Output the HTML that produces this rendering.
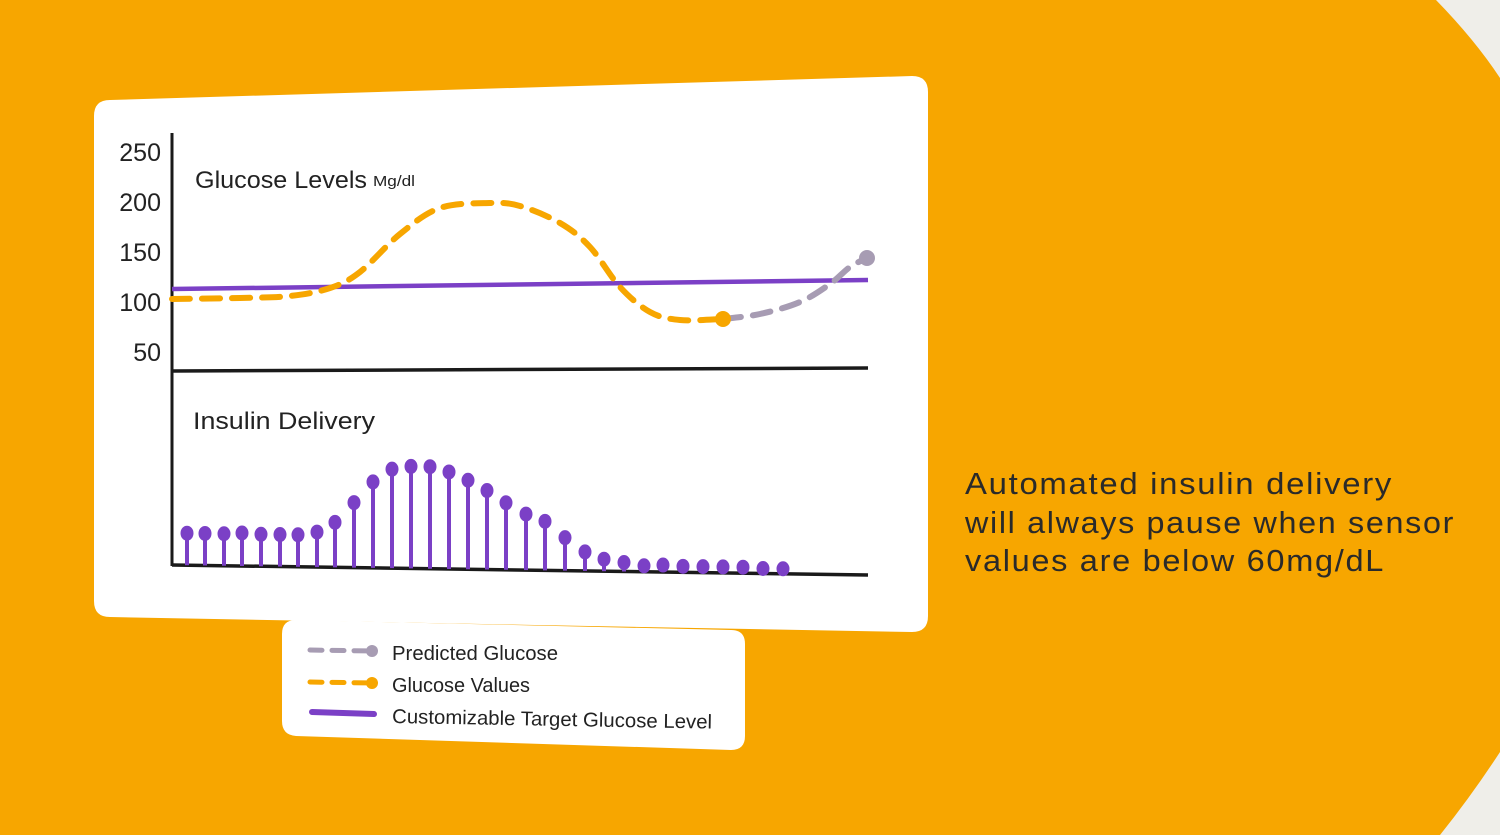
<!DOCTYPE html>
<html><head><meta charset="utf-8"><style>
html,body{margin:0;padding:0;width:1500px;height:835px;overflow:hidden;background:#F7A600}
svg{display:block;font-family:"Liberation Sans",sans-serif}
</style></head><body>
<svg id="chart" width="1500" height="835" viewBox="0 0 1500 835">
  <rect width="1500" height="835" fill="#F7A600"/>
  <path d="M1436,0 Q1475,40 1500,78 L1500,0 Z" fill="#EFEEE9"/>
  <path d="M1500,752 Q1472,795 1440,835 L1500,835 Z" fill="#EFEEE9"/>

  <path d="M110,100 L912,76 Q928,76 928,92 L928,616 Q928,632 912,632 L110,617 Q94,617 94,601 L94,116 Q94,100 110,100 Z" fill="#fff"/>
  <path d="M296,620 L731,630 Q745,630 745,644 L745,736 Q745,750 731,750 L296,736 Q282,735 282,721 L282,634 Q282,620 296,620 Z" fill="#fff"/>

  <g id="axes">
    <line x1="172" y1="133" x2="172" y2="566" stroke="#1a1a1a" stroke-width="3"/>
    <line x1="172" y1="371" x2="868" y2="368" stroke="#1a1a1a" stroke-width="3.5"/>
    <line x1="172" y1="565" x2="868" y2="575" stroke="#1a1a1a" stroke-width="3.5"/>
  </g>
  <g id="yticks" font-size="25" fill="#222" text-anchor="end"></g>
  <text x="195" y="188" font-size="24" fill="#222" textLength="172" lengthAdjust="spacingAndGlyphs">Glucose Levels</text>
  <text x="373" y="186" font-size="15" fill="#222" textLength="42" lengthAdjust="spacingAndGlyphs">Mg/dl</text>
  <text x="193" y="429" font-size="24" fill="#222" textLength="182" lengthAdjust="spacingAndGlyphs">Insulin Delivery</text>

  <g id="marks"></g>

  <g>
    <g>
      <line x1="310" y1="650" x2="372" y2="651" stroke="#A79CB3" stroke-width="5" stroke-linecap="round" stroke-dasharray="12 10"/>
      <circle cx="372" cy="651" r="6" fill="#A79CB3"/>
      <text x="392" y="660" font-size="20" fill="#222" textLength="166" lengthAdjust="spacingAndGlyphs">Predicted Glucose</text>
    </g>
    <g>
      <line x1="310" y1="682" x2="372" y2="683" stroke="#F7A600" stroke-width="5" stroke-linecap="round" stroke-dasharray="12 10"/>
      <circle cx="372" cy="683" r="6" fill="#F7A600"/>
      <text x="392" y="692" font-size="20" fill="#222" textLength="138" lengthAdjust="spacingAndGlyphs">Glucose Values</text>
    </g>
    <g>
      <line x1="312" y1="712" x2="374" y2="714" stroke="#7B40C6" stroke-width="6" stroke-linecap="round"/>
      <text x="392" y="723" font-size="20" fill="#222" textLength="320" lengthAdjust="spacingAndGlyphs" transform="rotate(1 392 723)">Customizable Target Glucose Level</text>
    </g>
  </g>

  <g font-size="31" fill="#2a2a2a" letter-spacing="1.6">
    <text x="965" y="494" textLength="428" lengthAdjust="spacingAndGlyphs">Automated insulin delivery</text>
    <text x="965" y="533" textLength="490" lengthAdjust="spacingAndGlyphs">will always pause when sensor</text>
    <text x="965" y="571" textLength="420" lengthAdjust="spacingAndGlyphs">values are below 60mg/dL</text>
  </g>
</svg>
<script>
const yTickValues = [250, 200, 150, 100, 50];
const glucoseX = [172, 240, 290, 330, 360, 400, 440, 490, 520, 560, 590, 620, 650, 680, 723];
const glucoseValues = [103, 104, 106, 114, 130, 168, 194, 199, 196, 179, 155, 115, 90, 82, 83];
const predictedX = [723, 760, 800, 830, 850, 867];
const predictedValues = [83, 88, 100, 118, 135, 144];
const targetX = [172, 868];
const targetValues = [113, 122];
const insulinX = [187,205,224,242,261,280,298,317,335,354,373,392,411,430,449,468,487,506,526,545,565,585,604,624,644,663,683,703,723,743,763,783];
const insulinValues = [32,32,32,33,32,32,32,35,45,65,86,99,102,102,97,89,79,67,56,49,33,19,12,9,6,7,6,6,6,6,5,5];

const NS = 'http://www.w3.org/2000/svg';
const yG = v => 402 - v;
const baseI = x => 565 + (x - 172) * 10 / 696;
const marks = document.getElementById('marks');
function mk(tag, attrs, parent) {
  const e = document.createElementNS(NS, tag);
  for (const k in attrs) e.setAttribute(k, attrs[k]);
  (parent || marks).appendChild(e);
  return e;
}
function smooth(pts) {
  let d = 'M' + pts[0][0] + ',' + pts[0][1];
  for (let i = 0; i < pts.length - 1; i++) {
    const p0 = pts[i - 1] || pts[i], p1 = pts[i], p2 = pts[i + 1], p3 = pts[i + 2] || p2;
    const c1 = [p1[0] + (p2[0] - p0[0]) / 6, p1[1] + (p2[1] - p0[1]) / 6];
    const c2 = [p2[0] - (p3[0] - p1[0]) / 6, p2[1] - (p3[1] - p1[1]) / 6];
    d += ' C' + c1 + ' ' + c2 + ' ' + p2;
  }
  return d;
}
const yt = document.getElementById('yticks');
yTickValues.forEach(v => {
  const t = mk('text', {x: 161, y: yG(v) + 9}, yt);
  t.textContent = v;
  
  
});
const tl = mk('line', {x1: targetX[0], y1: yG(targetValues[0]), x2: targetX[1], y2: yG(targetValues[1]), stroke: '#7B40C6', 'stroke-width': 4.5});


const gp = mk('path', {d: smooth(glucoseX.map((x, i) => [x, yG(glucoseValues[i])])), fill: 'none', stroke: '#F7A600', 'stroke-width': 6, 'stroke-dasharray': '18 12', 'stroke-linecap': 'round'});


const pp = mk('path', {d: smooth(predictedX.map((x, i) => [x, yG(predictedValues[i])])), fill: 'none', stroke: '#A79CB3', 'stroke-width': 6, 'stroke-dasharray': '18 12', 'stroke-linecap': 'round'});


const pd = mk('circle', {cx: predictedX[predictedX.length - 1], cy: yG(predictedValues[predictedValues.length - 1]), r: 8, fill: '#A79CB3'});


const gd = mk('circle', {cx: glucoseX[glucoseX.length - 1], cy: yG(glucoseValues[glucoseValues.length - 1]), r: 8, fill: '#F7A600'});


insulinX.forEach((x, i) => {
  const b = baseI(x), top = b - insulinValues[i];
  const g = mk('g', {});
  
  
  mk('line', {x1: x, y1: b, x2: x, y2: top, stroke: '#7B40C6', 'stroke-width': 4}, g);
  mk('ellipse', {cx: x, cy: top, rx: 6.5, ry: 7.5, fill: '#7B40C6'}, g);
});
</script>
</body></html>
